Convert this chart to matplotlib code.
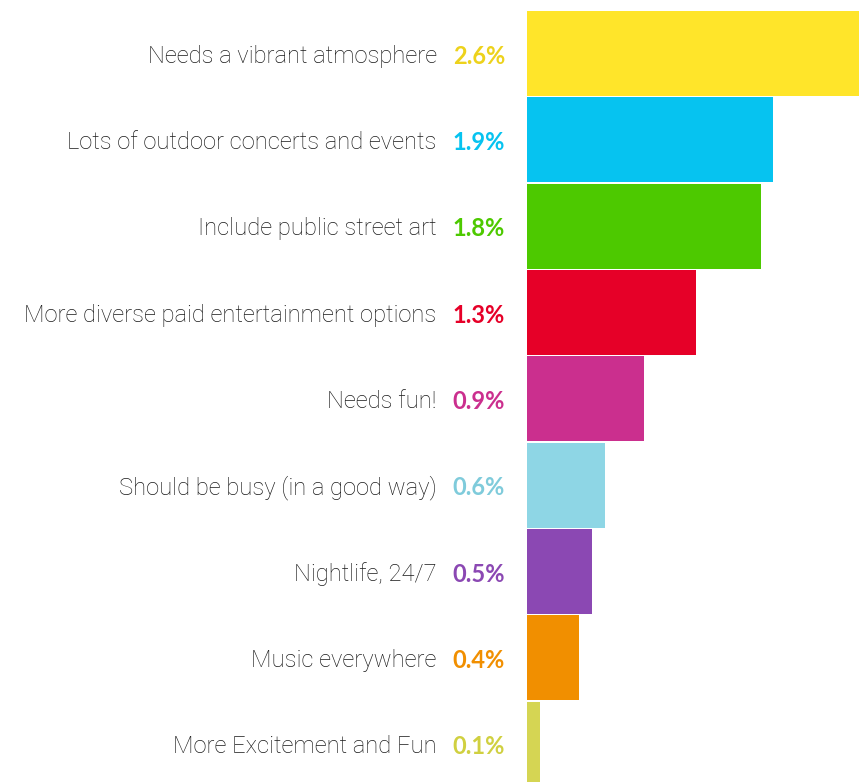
import matplotlib
matplotlib.use("Agg")
import matplotlib.pyplot as plt

categories = [
    "Needs a vibrant atmosphere",
    "Lots of outdoor concerts and events",
    "Include public street art",
    "More diverse paid entertainment options",
    "Needs fun!",
    "Should be busy (in a good way)",
    "Nightlife, 24/7",
    "Music everywhere",
    "More Excitement and Fun",
]
values = [2.6, 1.93, 1.83, 1.32, 0.92, 0.61, 0.51, 0.41, 0.10]
bar_colors = ["#FFE52A", "#06C3F0", "#4DC900", "#E60028", "#CB2F8E",
              "#8ED6E5", "#8B48B3", "#F18F00", "#D5D553"]
label_colors = ["#EDD21C", "#06C3F0", "#4DC900", "#E60028", "#CB2F8E",
                "#7FCBDB", "#8B48B3", "#F18F00", "#D0D040"]

W, H = 859, 782
fig = plt.figure(figsize=(W / 100, H / 100), dpi=100)
ax = fig.add_axes([527 / W, 0, 1 - 527 / W, 1])
ypos = list(range(len(categories)))
ax.barh(ypos, values, height=0.985, color=bar_colors, linewidth=0)
ax.set_xlim(0, 2.6)
ax.set_ylim(8.44, -0.62)
ax.axis("off")

for y, cat, v, c in zip(ypos, categories, values, label_colors):
    ax.annotate(cat, xy=(0, y), xytext=(-65, -2), textcoords="offset points",
                ha="right", va="center", fontsize=17.1, family="Roboto",
                fontweight="light", color="#1a1a1a", annotation_clip=False)
    ax.annotate(f"{v:.1f}%", xy=(0, y), xytext=(-53.5, -2), textcoords="offset points",
                ha="left", va="center", fontsize=17, family="Lato",
                fontweight="bold", color=c, annotation_clip=False)

fig.savefig("out.png", dpi=100)
